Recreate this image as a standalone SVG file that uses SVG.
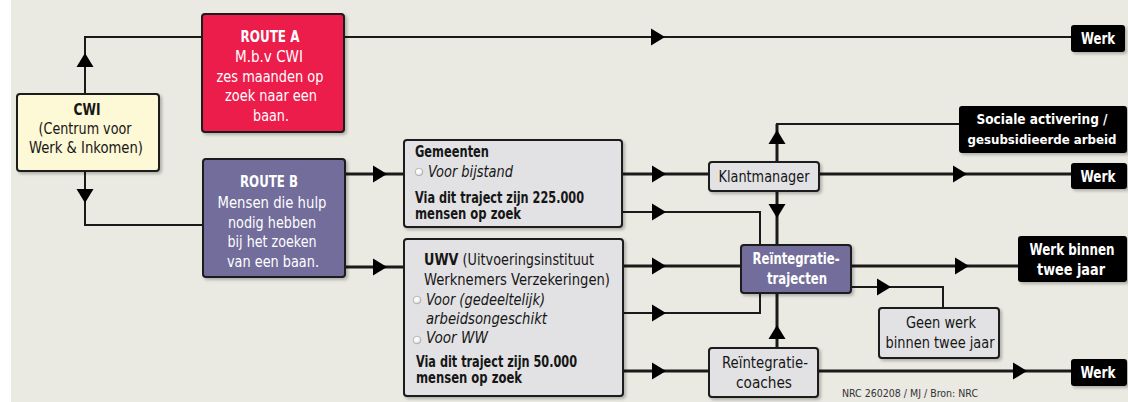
<svg xmlns="http://www.w3.org/2000/svg" width="1128" height="402" viewBox="0 0 1128 402">
<style>
.t{font-family:"DejaVu Sans Condensed","Liberation Sans",sans-serif;font-size:15px;fill:#161616}
.c{text-anchor:middle}
.b{font-weight:bold}
.i{font-style:italic}
.w{fill:#ffffff}
.box{stroke:#1a1a1a;stroke-width:2}
.gray{fill:#e2e2e4}
.dark{fill:#000000;stroke:none}
.ln{fill:none;stroke:#1a1a1a;stroke-width:3}
.thin{fill:none;stroke:#1a1a1a;stroke-width:2}
.ar{fill:#000000}
.bul{fill:url(#bg);stroke:#a8a8a8;stroke-width:0.8}
</style>
<defs>
<filter id="sh" x="-10%" y="-10%" width="130%" height="130%">
<feDropShadow dx="2" dy="2" stdDeviation="1.5" flood-color="#000" flood-opacity="0.25"/>
</filter>
<radialGradient id="bg" cx="0.4" cy="0.35" r="0.7">
<stop offset="0" stop-color="#ffffff"/>
<stop offset="0.6" stop-color="#f4f4f4"/>
<stop offset="1" stop-color="#b8b8b8"/>
</radialGradient>
<path id="arw" d="M0,0 L-14,-8.5 L-14,8.5 Z"/>
</defs>
<rect x="0" y="0" width="1128" height="402" fill="#ffffff"/>
<rect x="11" y="0" width="1117" height="402" fill="#eae9e2"/>

<g id="connectors">
<polyline class="thin" points="85,94 85,37 202,37"/>
<polyline class="thin" points="85,171 85,225 203,225"/>
<line class="thin" x1="344" y1="37" x2="1071" y2="37"/>
<line class="ln" x1="345" y1="174" x2="404" y2="174"/>
<line class="ln" x1="345" y1="267" x2="404" y2="267"/>
<line class="ln" x1="622" y1="174" x2="709" y2="174"/>
<line class="ln" x1="819" y1="174" x2="1071" y2="174"/>
<polyline class="thin" points="622,212 760,212 760,245"/>
<line class="ln" x1="623" y1="266" x2="741" y2="266"/>
<line class="ln" x1="851" y1="266" x2="1018" y2="266"/>
<polyline class="thin" points="623,313 760,313 760,293"/>
<line class="ln" x1="623" y1="371" x2="709" y2="371"/>
<line class="ln" x1="818" y1="371" x2="1071" y2="371"/>
<line class="ln" x1="777" y1="162" x2="777" y2="124"/>
<line class="thin" x1="776" y1="124" x2="959" y2="124"/>
<line class="ln" x1="777" y1="191" x2="777" y2="245"/>
<line class="ln" x1="777" y1="348" x2="777" y2="293"/>
<polyline class="thin" points="851,287 943,287 943,308"/>
<g class="ar">
<use href="#arw" transform="translate(85,53) rotate(-90)"/>
<use href="#arw" transform="translate(85,203) rotate(90)"/>
<use href="#arw" transform="translate(665,37)"/>
<use href="#arw" transform="translate(387,174)"/>
<use href="#arw" transform="translate(387,267)"/>
<use href="#arw" transform="translate(666,174)"/>
<use href="#arw" transform="translate(666,212)"/>
<use href="#arw" transform="translate(666,266)"/>
<use href="#arw" transform="translate(666,313)"/>
<use href="#arw" transform="translate(666,371)"/>
<use href="#arw" transform="translate(967,174)"/>
<use href="#arw" transform="translate(777,130) rotate(-90)"/>
<use href="#arw" transform="translate(777,218) rotate(90)"/>
<use href="#arw" transform="translate(969,266)"/>
<use href="#arw" transform="translate(891,287)"/>
<use href="#arw" transform="translate(777,325) rotate(-90)"/>
<use href="#arw" transform="translate(1027,371)"/>
</g>
</g>

<g id="cwi">
<rect class="box" x="17" y="94" width="142" height="77" rx="3" fill="#fdf8d5" filter="url(#sh)"/>
<text class="t c b" x="87" y="115" textLength="27" lengthAdjust="spacingAndGlyphs">CWI</text>
<text class="t c" x="85" y="134" textLength="93" lengthAdjust="spacingAndGlyphs">(Centrum voor</text>
<text class="t c" x="86" y="153" textLength="114" lengthAdjust="spacingAndGlyphs">Werk &amp; Inkomen)</text>
</g>

<g id="routeA">
<rect class="box" x="202" y="14" width="142" height="118" rx="3" fill="#ec1a4b" filter="url(#sh)"/>
<text class="t c b w" x="270" y="42" style="font-size:16px" textLength="59" lengthAdjust="spacingAndGlyphs">ROUTE A</text>
<text class="t c w" x="269" y="62" textLength="68" lengthAdjust="spacingAndGlyphs">M.b.v CWI</text>
<text class="t c w" x="270" y="82" textLength="107" lengthAdjust="spacingAndGlyphs">zes maanden op</text>
<text class="t c w" x="271" y="101" textLength="92" lengthAdjust="spacingAndGlyphs">zoek naar een</text>
<text class="t c w" x="271" y="121" textLength="36" lengthAdjust="spacingAndGlyphs">baan.</text>
</g>

<g id="routeB">
<rect class="box" x="203" y="159" width="142" height="118" rx="3" fill="#726d9b" filter="url(#sh)"/>
<text class="t c b w" x="269" y="187" style="font-size:16px" textLength="58" lengthAdjust="spacingAndGlyphs">ROUTE B</text>
<text class="t c w" x="272" y="208" textLength="109" lengthAdjust="spacingAndGlyphs">Mensen die hulp</text>
<text class="t c w" x="272" y="228" textLength="88" lengthAdjust="spacingAndGlyphs">nodig hebben</text>
<text class="t c w" x="272" y="247" textLength="89" lengthAdjust="spacingAndGlyphs">bij het zoeken</text>
<text class="t c w" x="273" y="267" textLength="92" lengthAdjust="spacingAndGlyphs">van een baan.</text>
</g>

<g id="gemeenten">
<rect class="box gray" x="404" y="140" width="218" height="87" rx="3" filter="url(#sh)"/>
<text class="t b" x="415" y="157" textLength="74" lengthAdjust="spacingAndGlyphs">Gemeenten</text>
<circle class="bul" cx="419" cy="172" r="3.8"/>
<text class="t i" x="428" y="177" textLength="85" lengthAdjust="spacingAndGlyphs">Voor bijstand</text>
<text class="t b" x="415" y="203" textLength="169" lengthAdjust="spacingAndGlyphs">Via dit traject zijn 225.000</text>
<text class="t b" x="415" y="219" textLength="106" lengthAdjust="spacingAndGlyphs">mensen op zoek</text>
</g>

<g id="uwv">
<rect class="box gray" x="404" y="239" width="219" height="157" rx="3" filter="url(#sh)"/>
<text class="t" x="424" y="265" textLength="170" lengthAdjust="spacingAndGlyphs"><tspan class="b">UWV</tspan> (Uitvoeringsinstituut</text>
<text class="t" x="424" y="285" textLength="186" lengthAdjust="spacingAndGlyphs">Werknemers Verzekeringen)</text>
<circle class="bul" cx="417" cy="300" r="3.8"/>
<text class="t i" x="426" y="305" textLength="119" lengthAdjust="spacingAndGlyphs">Voor (gedeeltelijk)</text>
<text class="t i" x="426" y="324" textLength="121" lengthAdjust="spacingAndGlyphs">arbeidsongeschikt</text>
<circle class="bul" cx="417" cy="340" r="3.8"/>
<text class="t i" x="426" y="343" textLength="62" lengthAdjust="spacingAndGlyphs">Voor WW</text>
<text class="t b" x="416" y="367" textLength="161" lengthAdjust="spacingAndGlyphs">Via dit traject zijn 50.000</text>
<text class="t b" x="416" y="383" textLength="106" lengthAdjust="spacingAndGlyphs">mensen op zoek</text>
</g>

<g id="klantmanager">
<rect class="box gray" x="709" y="162" width="110" height="29" rx="3" filter="url(#sh)"/>
<text class="t c" x="764" y="182" textLength="91" lengthAdjust="spacingAndGlyphs">Klantmanager</text>
</g>

<g id="reintegratietrajecten">
<rect class="box" x="741" y="245" width="110" height="48" rx="3" fill="#726d9b" filter="url(#sh)"/>
<text class="t c b w" x="796" y="264" textLength="87" lengthAdjust="spacingAndGlyphs">Reïntegratie-</text>
<text class="t c b w" x="797" y="284" textLength="60" lengthAdjust="spacingAndGlyphs">trajecten</text>
</g>

<g id="reintegratiecoaches">
<rect class="box gray" x="709" y="348" width="109" height="49" rx="3" filter="url(#sh)"/>
<text class="t c" x="765" y="368" textLength="86" lengthAdjust="spacingAndGlyphs">Reïntegratie-</text>
<text class="t c" x="764" y="388" textLength="56" lengthAdjust="spacingAndGlyphs">coaches</text>
</g>

<g id="geenwerk">
<rect class="box gray" x="879" y="308" width="120" height="50" rx="3" filter="url(#sh)"/>
<text class="t c" x="941" y="328" textLength="70" lengthAdjust="spacingAndGlyphs">Geen werk</text>
<text class="t c" x="940" y="348" textLength="109" lengthAdjust="spacingAndGlyphs">binnen twee jaar</text>
</g>

<g id="sociale">
<rect class="dark" x="959" y="106" width="168" height="47" rx="3" filter="url(#sh)"/>
<text class="t c b w" x="1042" y="124" style="font-size:14px" textLength="131" lengthAdjust="spacingAndGlyphs">Sociale activering /</text>
<text class="t c b w" x="1042" y="144" style="font-size:13px" textLength="149" lengthAdjust="spacingAndGlyphs">gesubsidieerde arbeid</text>
</g>

<g id="werk1">
<rect class="dark" x="1071" y="25" width="54" height="27" rx="3" filter="url(#sh)"/>
<text class="t c b w" x="1098" y="44" textLength="34" lengthAdjust="spacingAndGlyphs">Werk</text>
</g>

<g id="werk2">
<rect class="dark" x="1071" y="163" width="56" height="26" rx="3" filter="url(#sh)"/>
<text class="t c b w" x="1098" y="182" textLength="35" lengthAdjust="spacingAndGlyphs">Werk</text>
</g>

<g id="werkbinnen">
<rect class="dark" x="1018" y="236" width="109" height="46" rx="3" filter="url(#sh)"/>
<text class="t c b w" x="1072" y="255" textLength="85" lengthAdjust="spacingAndGlyphs">Werk binnen</text>
<text class="t c b w" x="1071" y="275" textLength="68" lengthAdjust="spacingAndGlyphs">twee jaar</text>
</g>

<g id="werk3">
<rect class="dark" x="1071" y="359" width="56" height="27" rx="3" filter="url(#sh)"/>
<text class="t c b w" x="1098" y="378" textLength="35" lengthAdjust="spacingAndGlyphs">Werk</text>
</g>

<text class="t" x="842" y="397" style="font-size:11px;fill:#333" textLength="136" lengthAdjust="spacingAndGlyphs">NRC 260208 / MJ / Bron: NRC</text>
</svg>
